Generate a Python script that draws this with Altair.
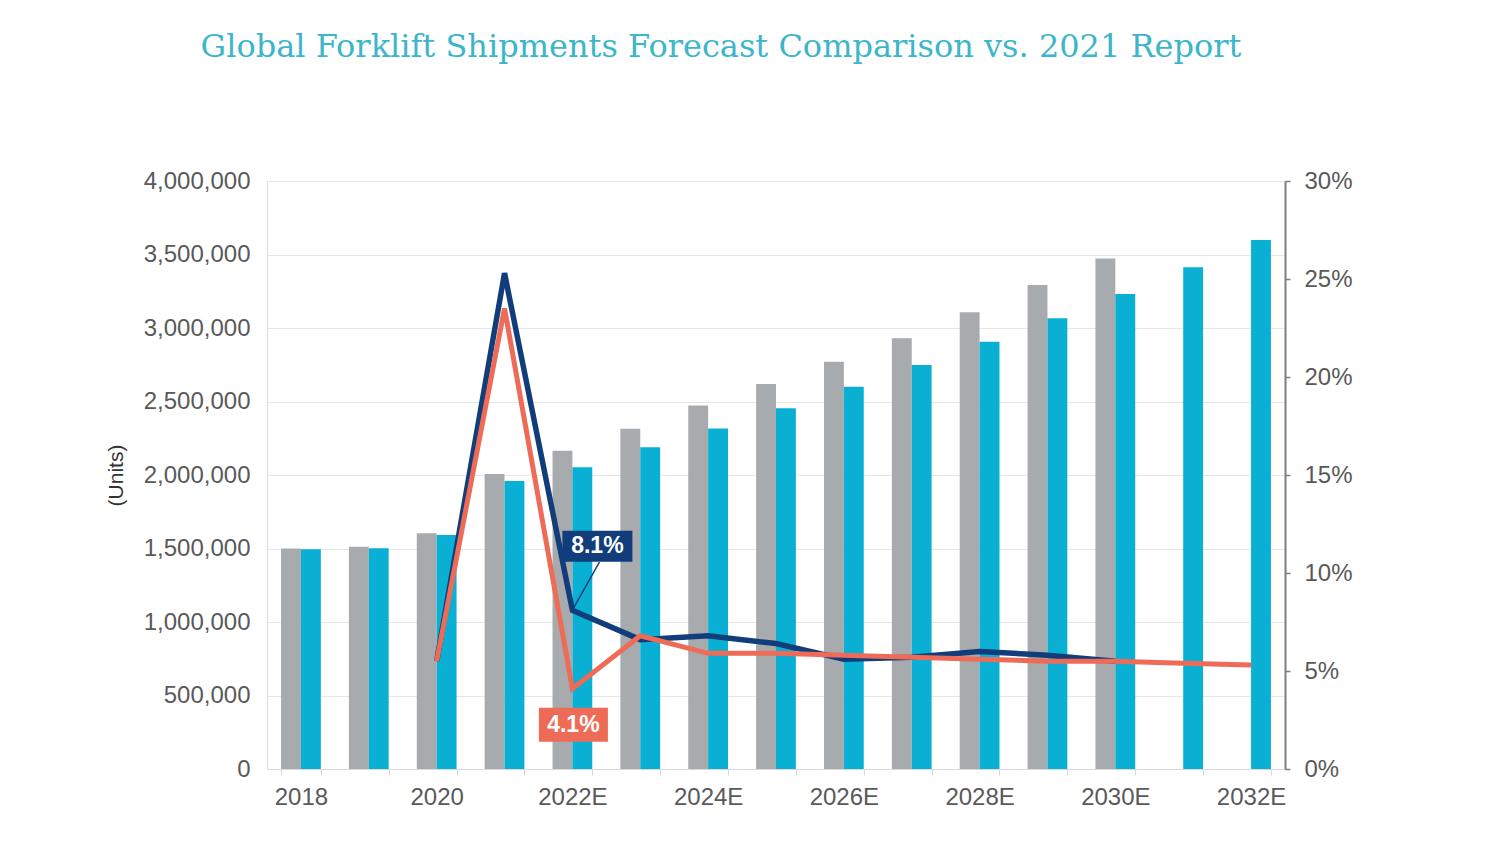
import altair as alt
import pandas as pd

years = ["2018", "2019", "2020", "2021", "2022E", "2023E", "2024E", "2025E",
         "2026E", "2027E", "2028E", "2029E", "2030E", "2031E", "2032E"]
series_names = ["2021 Report", "Current Forecast"]
report_2021_units = [1500000, 1512000, 1603000, 2007000, 2165000, 2315000, 2472000,
                     2619000, 2771000, 2930000, 3107000, 3293000, 3472000, None, None]
current_units = [1495000, 1501000, 1592000, 1959000, 2052000, 2188000, 2317000,
                 2454000, 2601000, 2748000, 2907000, 3066000, 3231000, 3413000, 3599000]
growth_2021 = [None, None, 0.055, 0.253, 0.081, 0.066, 0.068, 0.064, 0.056,
               0.057, 0.060, 0.058, 0.055, None, None]
growth_current = [None, None, 0.055, 0.235, 0.041, 0.068, 0.059, 0.059, 0.058,
                  0.057, 0.056, 0.055, 0.055, 0.054, 0.053]
callout_year = "2022E"
callout_values = [0.081, 0.041]
callout_labels = ["8.1%", "4.1%"]
units_ticks = [0, 500000, 1000000, 1500000, 2000000, 2500000, 3000000, 3500000, 4000000]
pct_ticks = [0, 0.05, 0.10, 0.15, 0.20, 0.25, 0.30]
shown_year_labels = ["2018", "2020", "2022E", "2024E", "2026E", "2028E", "2030E", "2032E"]

GREY = "#A7ABAE"
CYAN = "#0AB0D4"
NAVY = "#123D7B"
RED = "#EE6B57"
AXIS_TXT = "#595959"
FONT = "Liberation Sans"

bar_rows = []
for s, vals in zip(series_names, [report_2021_units, current_units]):
    for yr, v in zip(years, vals):
        if v is not None:
            bar_rows.append({"year": yr, "series": s, "units": v})
bar_df = pd.DataFrame(bar_rows)

navy_df = pd.DataFrame([{"year": y, "pct": v} for y, v in zip(years, growth_2021) if v is not None])
red_df = pd.DataFrame([{"year": y, "pct": v} for y, v in zip(years, growth_current) if v is not None])
navy_call = pd.DataFrame([{"year": callout_year, "pct": callout_values[0], "label": callout_labels[0]}])
red_call = pd.DataFrame([{"year": callout_year, "pct": callout_values[1], "label": callout_labels[1]}])

label_test = " || ".join([f"datum.value == '{y}'" for y in shown_year_labels])

x_enc = alt.X(
    "year:N", sort=years, title=None,
    scale=alt.Scale(paddingInner=0.414, paddingOuter=0.207),
    axis=alt.Axis(
        labelExpr=f"({label_test}) ? datum.value : ''",
        labelAngle=0, labelFont=FONT, labelFontSize=24, labelColor=AXIS_TXT,
        labelPadding=10, tickBand="extent", tickSize=6, tickColor="#d9d9d9",
        domainColor="#d9d9d9", domainWidth=1, grid=False,
    ),
)

bars = alt.Chart(bar_df).mark_bar().encode(
    x=x_enc,
    xOffset=alt.XOffset("series:N", sort=series_names),
    y=alt.Y(
        "units:Q",
        scale=alt.Scale(domain=[0, 4000000], nice=False),
        axis=alt.Axis(
            values=units_ticks, format=",d", title="(Units)",
            titleFont=FONT, titleFontSize=21, titleFontWeight="normal",
            titleColor="#333333", titlePadding=17,
            labelFont=FONT, labelFontSize=24, labelColor=AXIS_TXT, labelPadding=17,
            ticks=False, domain=False, grid=True, gridColor="#e6e6e6", gridWidth=1,
        ),
    ),
    color=alt.Color("series:N", scale=alt.Scale(domain=series_names, range=[GREY, CYAN]), legend=None),
)

y_pct = alt.Y(
    "pct:Q",
    scale=alt.Scale(domain=[0, 0.30], nice=False),
    axis=alt.Axis(
        orient="right", values=pct_ticks, format=".0%", title=None,
        labelFont=FONT, labelFontSize=24, labelColor=AXIS_TXT, labelPadding=14,
        tickSize=5, tickColor="#7f7f7f", tickWidth=1.5,
        domainColor="#7f7f7f", domainWidth=2, grid=False,
    ),
)

navy_line = alt.Chart(navy_df).mark_line(color=NAVY, strokeWidth=5.5).encode(x=x_enc, y=y_pct)
red_line = alt.Chart(red_df).mark_line(color=RED, strokeWidth=5).encode(x=x_enc, y=y_pct)

leader = alt.Chart(navy_call).mark_rule(color=NAVY, strokeWidth=1.5, x2Offset=27, y2Offset=-48).encode(
    x=x_enc, x2="year:N", y=y_pct, y2="pct:Q"
)

box_shape = "M-1.167,-0.517L1.167,-0.517L1.167,0.517L-1.167,0.517Z"
box_shape_r = "M-1.15,-0.567L1.15,-0.567L1.15,0.567L-1.15,0.567Z"

navy_box = alt.Chart(navy_call).mark_point(
    shape=box_shape, size=3600, filled=True, opacity=1, color=NAVY, xOffset=25, yOffset=-64
).encode(x=x_enc, y=y_pct)
navy_txt = alt.Chart(navy_call).mark_text(
    color="white", font=FONT, fontSize=23, fontWeight="bold", align="center",
    baseline="middle", xOffset=25, yOffset=-64
).encode(x=x_enc, y=y_pct, text="label:N")

red_box = alt.Chart(red_call).mark_point(
    shape=box_shape_r, size=3600, filled=True, opacity=1, color=RED, xOffset=1, yOffset=36
).encode(x=x_enc, y=y_pct)
red_txt = alt.Chart(red_call).mark_text(
    color="white", font=FONT, fontSize=23, fontWeight="bold", align="center",
    baseline="middle", xOffset=1, yOffset=36
).encode(x=x_enc, y=y_pct, text="label:N")

right = alt.layer(navy_line, red_line, leader, navy_box, navy_txt, red_box, red_txt)

chart = alt.layer(bars, right).resolve_scale(y="independent").properties(
    width=1018,
    height=588,
    padding={"left": 97, "top": 23, "right": 40, "bottom": 20},
    title=alt.TitleParams(
        "Global Forklift Shipments Forecast Comparison vs. 2021 Report",
        font="DejaVu Serif", fontSize=32, fontWeight="normal", color="#3DB5CB",
        anchor="middle", offset=105, dx=-55,
    ),
).configure_view(stroke=None).configure(background="white")

chart.save("out.html", embed_options={"renderer": "svg", "actions": False})
